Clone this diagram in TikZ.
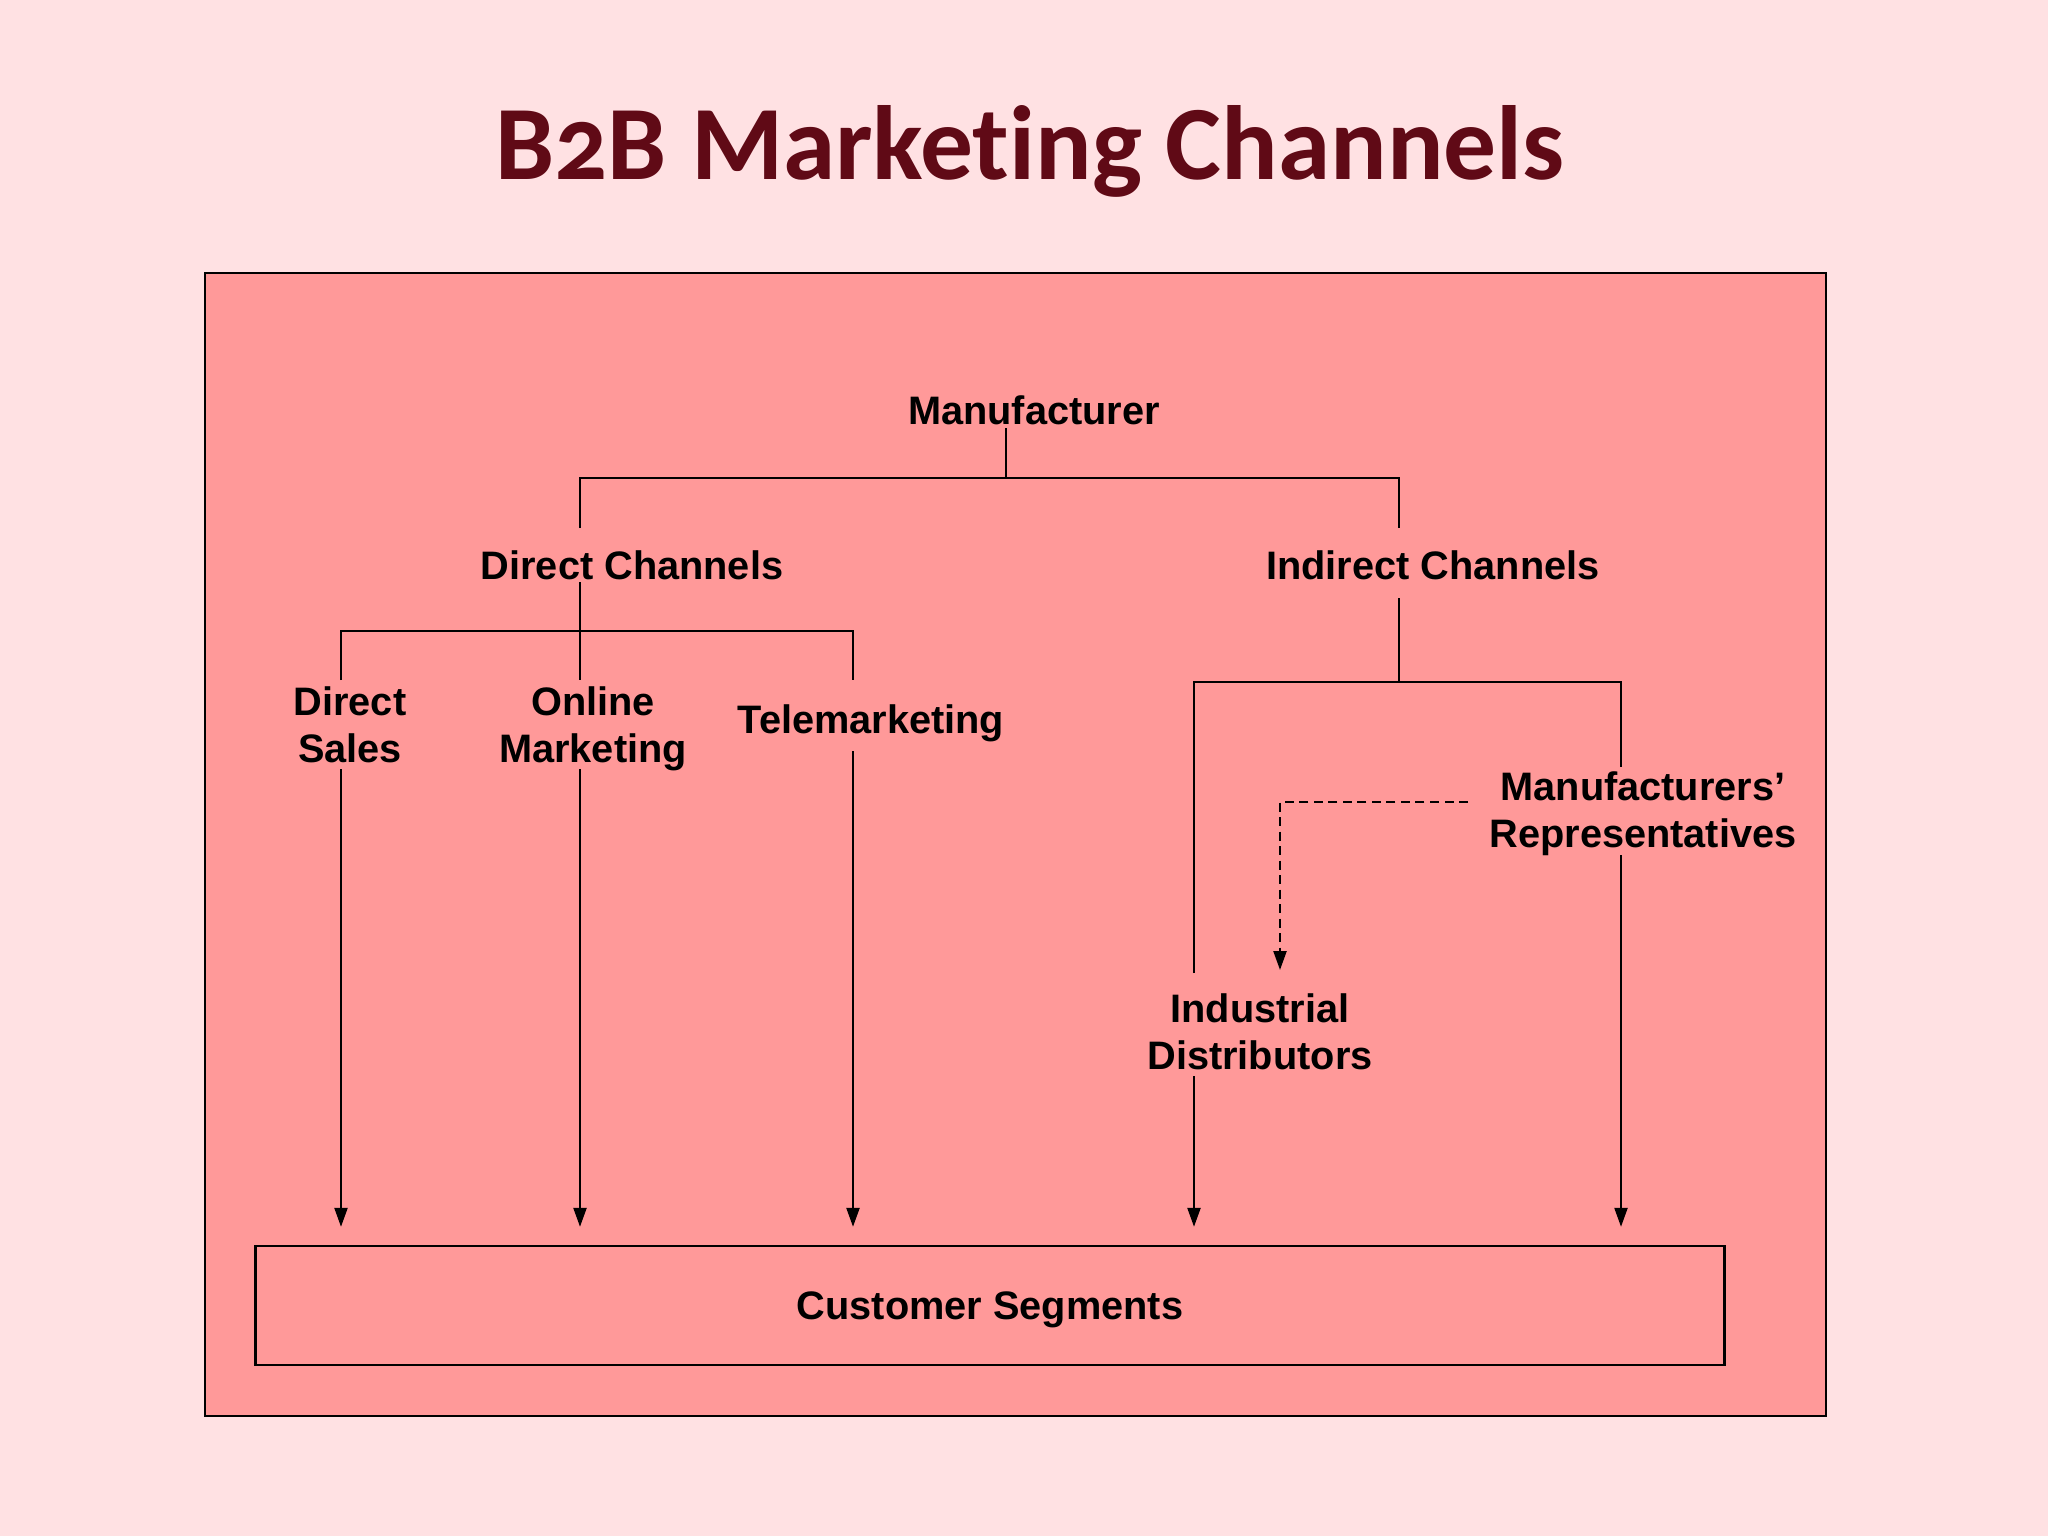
\documentclass[tikz,border=0pt]{standalone}
\usepackage{fontspec}
\setmainfont{Liberation Sans}
\newfontfamily\titlefont{Carlito}[Numbers=OldStyle,Ligatures=NoCommon]
\usetikzlibrary{arrows.meta}
\definecolor{pagebg}{RGB}{255,225,227}
\definecolor{panel}{RGB}{255,153,153}
\definecolor{titlered}{RGB}{96,10,22}
\begin{document}
\begin{tikzpicture}[x=0.01cm,y=-0.01cm,
  lbl/.style={font=\fontsize{11.3}{13.4}\selectfont\bfseries, inner sep=0pt, align=center},
  ln/.style={line width=0.65pt},
  arr/.style={ln,-{Triangle[length=0.19cm,width=0.13cm]}},
  dsh/.style={arr, dash pattern=on 0.09cm off 0.055cm}]
\fill[pagebg] (0,0) rectangle (2048,1536);
\useasboundingbox (0,0) rectangle (2048,1536);
\draw[ln, fill=panel] (205,273) rectangle (1826,1416);

\node[anchor=base, text=titlered, inner sep=0pt,
      font=\titlefont\bfseries\fontsize{30}{36}\selectfont] (title) at (1030,179) {B2B Marketing Channels};

\node[lbl, anchor=base] (man) at (1034,424) {Manufacturer};
\node[lbl, anchor=base] (dc) at (632,579) {Direct Channels};
\node[lbl, anchor=base] (ic) at (1433,579) {Indirect Channels};
\node[lbl, anchor=base] (tm) at (871,733) {Telemarketing};
\node[lbl] (ds) at (350,725) {Direct\\Sales};
\node[lbl] (om) at (593,729) {Online\\Marketing};
\node[lbl] (mr) at (1643,814) {Manufacturers’\\Representatives};
\node[lbl] (id) at (1260,1032) {Industrial\\Distributors};
\node[lbl, draw, line width=0.65pt, text depth=0pt, minimum width=14.68cm, minimum height=1.19cm] (cs) at (990,1305.5) {Customer Segments};

% Manufacturer split
\coordinate (mA) at (1006,428);
\coordinate (mB) at (1006,478);
\coordinate (dcIn) at (580,528);
\coordinate (icIn) at (1399,528);
\draw[ln] (mA) -- (mB);
\draw[ln] (dcIn) |- (mB) -| (icIn);

% Direct channels split
\coordinate (dcOut) at (580,582);
\coordinate (dJ) at (580,631);
\coordinate (dsIn) at (341,680);
\coordinate (omIn) at (580,680);
\coordinate (tmIn) at (853,680);
\draw[ln] (dcOut) -- (omIn);
\draw[ln] (dsIn) |- (dJ) -| (tmIn);

% Indirect channels split
\coordinate (icOut) at (1399,598);
\coordinate (iJ) at (1399,682);
\coordinate (idIn) at (1194,973);
\coordinate (mrIn) at (1621,767);
\draw[ln] (icOut) -- (iJ);
\draw[ln] (idIn) |- (iJ) -| (mrIn);

% dashed link
\coordinate (mrD) at (1468,802);
\coordinate (idD) at (1280,970);
\draw[dsh] (mrD) -| (idD);

% arrows to customer segments
\coordinate (dsOut) at (341,769);
\coordinate (omOut) at (580,769);
\coordinate (tmOut) at (853,751);
\coordinate (idOut) at (1194,1076);
\coordinate (mrOut) at (1621,855);
\foreach \c in {dsOut,omOut,tmOut,idOut,mrOut}
  \draw[arr, shorten >=0.18cm] (\c) -- (\c |- cs.north);
\end{tikzpicture}
\end{document}
